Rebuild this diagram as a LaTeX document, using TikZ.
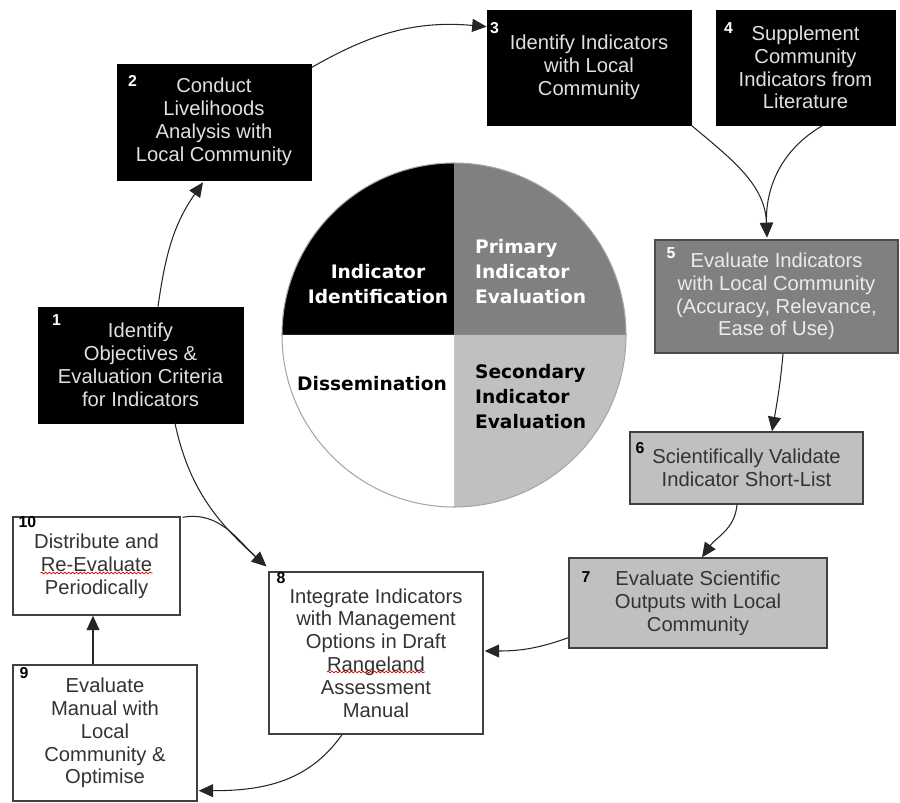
\documentclass[tikz,border=0pt]{standalone}
\usepackage{fontspec}
\setmainfont{Liberation Sans}
\newfontfamily\piefont{DejaVu Sans}
\usetikzlibrary{arrows.meta,decorations.pathmorphing}
\definecolor{midgray}{RGB}{128,128,128}
\definecolor{palegray}{RGB}{192,192,192}
\newcommand{\boxfont}{\fontsize{11.5}{13}\selectfont}
\newcommand{\piesize}{\piefont\bfseries\fontsize{10.6}{14.2}\selectfont}
\begin{document}
\begin{tikzpicture}[x=0.02cm,y=0.02cm]
\tikzstyle{every node}=[font=\boxfont,align=center,inner sep=1pt]
\tikzstyle{blk}=[draw=black,fill=black,text=white!88!black]
\tikzstyle{drk}=[draw=black!70,fill=midgray,text=white!92!black,line width=0.8pt]
\tikzstyle{lgt}=[draw=black!75,fill=palegray,text=black!80,line width=0.8pt]
\tikzstyle{wht}=[draw=black!75,fill=white,text=black!80,line width=0.8pt]
\tikzstyle{num}=[font=\bfseries\fontsize{9}{9}\selectfont,inner sep=0pt,anchor=north west]
\tikzstyle{pielbl}=[font=\piesize]
\tikzstyle{arr}=[-{Triangle[length=2.9mm,width=2.6mm]},draw=black!85,line width=0.6pt]
\tikzstyle{squig}=[red!85!black,line width=0.4pt,decorate,decoration={snake,amplitude=0.5pt,segment length=2.2pt}]
\useasboundingbox (0,0) rectangle (900,-803);
\coordinate (pie) at (454,-335);
\fill[black] (pie) -- ++(180:172) arc[start angle=180,end angle=90,radius=172] -- cycle;
\fill[midgray] (pie) -- ++(90:172) arc[start angle=90,end angle=0,radius=172] -- cycle;
\fill[palegray] (pie) -- ++(0:172) arc[start angle=0,end angle=-90,radius=172] -- cycle;
\fill[white] (pie) -- ++(-90:172) arc[start angle=-90,end angle=-180,radius=172] -- cycle;
\draw[gray!70,line width=0.6pt] (pie) circle[radius=172];
\node[pielbl,text=white] (pid) at (378,-284) {Indicator\\Identification};
\node[pielbl,text=white,anchor=west,align=left] (ppe) at (473,-272) {Primary\\Indicator\\Evaluation};
\node[pielbl] (pds) at (372,-384) {Dissemination};
\node[pielbl,anchor=west,align=left] (pse) at (473,-397) {Secondary\\Indicator\\Evaluation};
\node[blk,minimum width=4.1cm,minimum height=2.32cm] (b1) at (140.5,-365) {Identify\\Objectives \&\\Evaluation Criteria\\for Indicators};
\node[blk,minimum width=3.88cm,minimum height=2.32cm] (b2) at (214,-122) {Conduct\\Livelihoods\\Analysis with\\Local Community};
\node[blk,minimum width=4.08cm,minimum height=2.3cm] (b3) at (589,-67.5) {Identify Indicators\\with Local\\Community};
\node[blk,minimum width=3.58cm,minimum height=2.3cm] (b4) at (805.5,-67.5) {Supplement\\Community\\Indicators from\\Literature};
\node[drk,minimum width=4.86cm,minimum height=2.26cm] (b5) at (776.5,-296.5) {Evaluate Indicators\\with Local Community\\(Accuracy, Relevance,\\Ease of Use)};
\node[lgt,minimum width=4.66cm,minimum height=1.44cm] (b6) at (746.5,-468) {Scientifically Validate\\Indicator Short-List};
\node[lgt,minimum width=5.16cm,minimum height=1.8cm] (b7) at (698,-603) {Evaluate Scientific\\Outputs with Local\\Community};
\node[wht,minimum width=4.28cm,minimum height=3.24cm] (b8) at (376,-653) {Integrate Indicators\\with Management\\Options in Draft\\Rangeland\\Assessment\\Manual};
\node[wht,minimum width=3.68cm,minimum height=2.72cm] (b9) at (105,-733) {Evaluate\\Manual with\\Local\\Community \&\\Optimise};
\node[wht,minimum width=3.34cm,minimum height=1.96cm] (b10) at (96.5,-566) {Distribute and\\Re-Evaluate\\Periodically};
\node[num,text=white] (n1) at ([shift={(14,-8)}]b1.north west) {1};
\node[num,text=white] (n2) at ([shift={(11,-11)}]b2.north west) {2};
\node[num,text=white] (n3) at ([shift={(3,-12)}]b3.north west) {3};
\node[num,text=white] (n4) at ([shift={(8,-13)}]b4.north west) {4};
\node[num,text=white] (n5) at ([shift={(12,-8)}]b5.north west) {5};
\node[num] (n6) at ([shift={(6,-11)}]b6.north west) {6};
\node[num] (n7) at ([shift={(13,-14)}]b7.north west) {7};
\node[num] (n8) at ([shift={(8,-1)}]b8.north west) {8};
\node[num] (n9) at ([shift={(7,-3)}]b9.north west) {9};
\node[num] (n10) at ([shift={(6,0)}]b10.north west) {10};
\draw[squig] ([shift={(-56,-7)}]b10.center) -- ++(112,0);
\draw[squig] ([shift={(-49,-19)}]b8.center) -- ++(98,0);
\draw[arr] ([shift={(17.5,0)}]b1.north) to[out=82,in=235] ([shift={(-11,-2)}]b2.south);
\draw[arr] ([shift={(0,-4)}]b2.north east) to[out=30,in=175] ([shift={(0,-17)}]b3.north west);
\draw[arr] (b3.south east) to[out=-40,in=92] ([shift={(-9.5,2)}]b5.north);
\draw[arr] ([shift={(17.5,0)}]b4.south) to[out=210,in=92] ([shift={(-9.5,2)}]b5.north);
\draw[arr] ([shift={(6.5,0)}]b5.south) to[out=-95,in=80] ([shift={(25.5,0)}]b6.north);
\draw[arr] ([shift={(-9.5,0)}]b6.south) to[out=-95,in=55] ([shift={(4,0)}]b7.north);
\draw[arr] ([shift={(0,11)}]b7.south west) to[out=200,in=0] ([shift={(1,2)}]b8.east);
\draw[arr] ([shift={(-34,0)}]b8.south) to[out=235,in=0] ([shift={(1,11)}]b9.south east);
\draw[arr] ([shift={(-12,0)}]b9.north) -- ([shift={(-12,0)}]b9.north |- b10.south);
\draw[arr] ([shift={(34.5,0)}]b1.south) to[out=-78,in=138] ([shift={(-2,5)}]b8.north west);
\draw[arr] ([shift={(2,-1)}]b10.north east) to[out=10,in=138] ([shift={(-2,5)}]b8.north west);
\end{tikzpicture}
\end{document}
